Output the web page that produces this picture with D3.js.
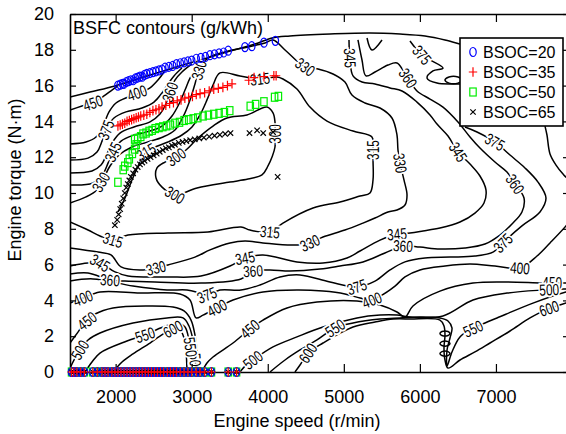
<!DOCTYPE html>
<html>
<head>
<meta charset="utf-8">
<script src="https://cdn.jsdelivr.net/npm/d3@7"></script>
<style>
  body { margin: 0; background: #fff; }
  svg { display: block; font-family: "Liberation Sans", Arial, sans-serif; }
</style>
</head>
<body>
<svg id="chart" width="566" height="434"></svg>
<script>
// axis ticks
const speedTicks = [2000, 3000, 4000, 5000, 6000, 7000]
const torqueTicks = [0, 2, 4, 6, 8, 10, 12, 14, 16, 18, 20]

// operating points [speed r/min, torque N·m]
const seriesNames = ["BSOC=20", "BSOC=35", "BSOC=50", "BSOC=65"]
const bsoc20 = [[2030,16.0],[2060,16.05],[2090,16.1],[2110,16.1],[2140,16.2],[2170,16.25],[2200,16.3],[2230,16.3],[2260,16.4],[2290,16.45],[2320,16.5],[2350,16.5],[2380,16.6],[2410,16.65],[2450,16.7],[2490,16.75],[2530,16.8],[2570,16.85],[2610,16.9],[2650,17.0],[2700,17.05],[2750,17.1],[2800,17.2],[2850,17.25],[2900,17.3],[2950,17.35],[3000,17.4],[3060,17.5],[3120,17.55],[3180,17.6],[3240,17.7],[3300,17.75],[3360,17.8],[3420,17.85],[3480,17.95],[3700,18.15],[3790,18.2],[3950,18.4],[4100,18.5]]
const bsoc35 = [[2030,13.75],[2060,13.8],[2090,13.85],[2120,13.9],[2150,14.0],[2180,14.05],[2210,14.1],[2240,14.15],[2270,14.2],[2300,14.25],[2330,14.3],[2370,14.35],[2410,14.4],[2450,14.5],[2490,14.6],[2530,14.65],[2570,14.7],[2610,14.8],[2660,14.9],[2710,15.0],[2760,15.05],[2810,15.15],[2860,15.2],[2910,15.3],[2960,15.35],[3010,15.4],[3060,15.5],[3110,15.55],[3170,15.6],[3230,15.7],[3290,15.8],[3350,15.85],[3410,15.9],[3470,16.0],[3530,16.1],[3750,16.3],[3820,16.45],[3950,16.5],[4080,16.55],[4110,16.55]]
const bsoc50 = [[2030,10.6],[2100,11.3],[2120,11.5],[2160,11.7],[2180,11.9],[2220,12.2],[2250,12.45],[2270,12.7],[2250,13.0],[2290,13.05],[2330,13.15],[2360,13.3],[2400,13.35],[2440,13.45],[2480,13.5],[2520,13.6],[2570,13.65],[2620,13.7],[2670,13.75],[2720,13.8],[2780,13.9],[2840,13.95],[2900,14.05],[2960,14.1],[3020,14.15],[3080,14.2],[3150,14.3],[3220,14.35],[3290,14.4],[3360,14.45],[3430,14.5],[3500,14.6],[3770,14.85],[3840,14.95],[3950,15.1],[4090,15.35],[4140,15.4]]
const bsoc65 = [[1990,8.2],[2020,8.5],[2040,8.8],[2060,9.1],[2080,9.4],[2100,9.7],[2120,10.0],[2140,10.3],[2160,10.5],[2180,10.7],[2200,10.9],[2230,11.1],[2260,11.3],[2290,11.45],[2320,11.6],[2350,11.7],[2380,11.8],[2420,11.9],[2460,12.0],[2500,12.1],[2540,12.2],[2580,12.3],[2620,12.4],[2660,12.5],[2700,12.55],[2740,12.65],[2780,12.7],[2830,12.8],[2880,12.85],[2930,12.9],[2980,12.95],[3040,13.0],[3100,13.05],[3160,13.1],[3230,13.15],[3300,13.2],[3370,13.25],[3440,13.3],[3510,13.35],[3760,13.35],[3860,13.5],[3940,13.35],[4070,13.4],[4130,10.9]]
// zero-torque points shared by every series
const idleSpeeds = [1420,1450,1490,1540,1590,1700,1760,1820,1860,1900,1950,1990,2030,2070,2110,2150,2190,2230,2270,2310,2350,2390,2430,2470,2510,2550,2590,2630,2680,2720,2760,2800,2850,2900,2950,3000,3060,3110,3170,3260,3480,3590]

// BSFC contour lines [speed, torque] and label spots
const edgeTop = [[1400,15.36],[1663,15.64],[1992,15.98],[2452,16.59],[2978,17.26],[3504,17.93],[3832,18.32],[4056,18.66],[4292,18.77],[4818,18.88],[5344,18.94],[5739,18.88],[6067,18.77],[6330,18.55],[6527,18.32],[6700,18.1]]
const edgeV = [[5305,18.66],[5370,17.99],[5502,18.55]]

const c300 = [[3464,14.19],[3280,13.74],[3083,13.07],[2925,12.40],[2794,12.01],[2649,11.73],[2544,11.40],[2531,10.84],[2610,10.33],[2780,9.89],[3070,10.28],[3504,10.61],[3740,10.78],[3924,11.01],[4003,11.51],[4056,12.01],[4095,12.57],[4095,13.30],[4095,13.97],[4069,14.47],[3990,14.80],[3727,14.36]]
const c300Labels = [[2794,12.01],[2780,9.89],[4095,13.30]]

const c315 = [[1400,8.38],[1637,7.93],[1794,7.60],[1965,7.37],[2163,7.65],[2688,7.77],[3214,7.82],[3648,8.10],[3766,7.93],[4029,7.82],[4200,8.32],[4595,9.16],[4950,9.50],[5213,9.83],[5344,10.00],[5384,10.73],[5384,11.84],[5384,12.57],[5370,13.13],[5121,13.46],[4779,14.02],[4555,14.80],[4384,15.81],[4200,16.37],[4121,16.48],[3898,16.37],[3635,16.54],[3372,16.71],[3280,16.03],[3201,15.20],[3109,14.36],[3004,13.69],[2872,13.24],[2688,12.85],[2517,12.57],[2399,12.29],[2320,11.73],[2215,10.73],[2123,9.72],[2031,8.94]]
const c315Labels = [[1965,7.37],[4029,7.82],[5384,12.40],[3898,16.37],[2399,12.29]]

const c330 = [[1400,9.44],[1610,9.78],[1755,10.17],[1834,10.73],[1926,11.51],[2044,12.12],[2215,12.57],[2425,12.85],[2623,13.13],[2780,13.52],[2886,14.25],[2978,15.20],[3043,16.09],[3096,16.87],[3214,17.54],[3438,17.88],[3740,18.16],[3964,18.38],[4069,18.55],[4227,17.99],[4398,17.32],[4490,17.04],[4661,16.93],[4858,16.65],[5015,16.20],[5107,15.47],[5278,15.03],[5476,14.75],[5633,14.19],[5699,13.24],[5712,12.40],[5739,11.67],[5791,10.73],[5831,9.89],[5804,9.33],[5699,9.05],[5581,8.94],[5410,8.60],[5252,8.32],[5015,7.93],[4726,7.54],[4555,7.21],[4332,7.09],[3937,7.21],[3701,7.32],[3504,7.21],[3241,6.82],[3043,6.42],[2688,5.98],[2531,5.81],[2320,5.70],[2071,5.87],[1939,6.54],[1768,6.70],[1400,6.93]]
const c330Labels = [[1808,10.61],[3096,16.87],[4490,17.04],[5739,11.67],[4555,7.21],[2531,5.81]]

const c345Left = [[1400,10.45],[1702,10.56],[1834,11.06],[1900,11.67],[1965,12.29],[2071,12.90],[2241,13.24],[2452,13.46],[2610,13.74],[2741,14.30],[2833,14.97],[2912,15.75],[2978,16.42],[3060,16.95]]
const c345LeftLabels = [[1965,12.29]]
const c345 = [[5068,18.55],[5081,17.43],[5121,16.54],[5239,16.20],[5410,16.09],[5607,15.87],[5765,15.70],[5962,15.08],[6133,14.36],[6225,13.85],[6370,13.18],[6501,12.29],[6659,11.62],[6790,10.95],[6869,10.17],[6843,9.44],[6724,8.88],[6527,8.38],[6264,8.04],[6041,7.88],[5870,7.77],[5699,7.71],[5476,7.37],[5213,6.76],[5042,6.37],[4726,6.09],[4384,6.15],[3937,6.54],[3701,6.37],[3504,5.92],[3122,5.36],[2688,5.31],[2163,5.36],[1992,5.59],[1794,6.09],[1637,6.09],[1400,5.92]]
const c345Labels = [[5081,17.54],[6501,12.29],[5699,7.71],[3701,6.37],[1794,6.09]]

const c360Left = [[1400,11.12],[1689,11.23],[1808,11.56],[1873,12.07],[1952,12.79],[2057,13.35],[2241,13.69],[2452,13.97],[2583,14.41],[2662,14.97],[2715,15.64],[2780,16.31],[2872,16.76],[3004,17.21]]
const c360LeftLabels = [[2715,15.64]]
const c360 = [[5186,18.55],[5239,17.43],[5291,16.54],[5410,16.76],[5581,17.15],[5699,17.26],[5791,16.76],[5844,16.42],[5962,15.70],[6133,15.25],[6304,14.80],[6501,13.97],[6659,13.13],[6790,12.51],[6987,11.73],[7145,11.17],[7251,10.50],[7369,9.72],[7342,8.94],[7211,8.27],[7053,7.65],[6856,7.15],[6593,6.93],[6264,6.87],[6001,6.98],[5778,7.04],[5541,6.65],[5252,6.15],[4950,5.92],[4687,5.75],[4292,5.64],[4029,5.70],[3806,5.64],[3648,5.20],[3122,4.97],[2517,5.03],[2123,5.08],[1926,5.14],[1637,5.53],[1400,5.47]]
const c360Labels = [[5844,16.42],[7251,10.50],[5778,7.04],[3806,5.64],[1926,5.14]]

const c375Left = [[1400,11.84],[1637,11.95],[1755,12.29],[1821,12.90],[1886,13.63],[1978,14.19],[2136,14.53],[2347,14.75],[2504,15.08],[2610,15.59],[2688,16.09],[2767,16.54],[2872,16.98]]
const c375LeftLabels = [[1873,13.52]]
const c375Top = [[5870,18.49],[6028,17.71],[6304,16.98],[6172,16.82],[6094,16.42],[6225,16.14],[6527,16.09],[6700,16.05]]
const c375TopLabels = [[6028,17.71]]
const c375Loop = [[6330,16.31],[6383,16.48],[6501,16.48],[6554,16.31],[6501,16.14],[6383,16.14]]
const c375 = [[6593,13.69],[6751,13.41],[6987,12.85],[7185,12.12],[7382,11.40],[7553,10.61],[7658,9.72],[7579,8.94],[7342,8.16],[7158,7.48],[7093,7.21],[6961,6.70],[6724,6.48],[6396,6.42],[6067,6.37],[5804,6.15],[5607,5.70],[5410,5.08],[5173,4.75],[4818,5.03],[4424,5.42],[4161,5.31],[3898,4.86],[3648,4.58],[3372,4.58],[3201,4.30],[3109,4.41],[2938,4.58],[2675,4.58],[2228,4.80],[1702,5.20],[1400,5.08]]
const c375Labels = [[6987,12.85],[7093,7.21],[5173,4.75],[3201,4.30]]

const c400Left = [[1400,12.74],[1610,12.85],[1742,13.13],[1834,13.74],[1913,14.53],[2005,15.03],[2163,15.36],[2320,15.59],[2452,15.87],[2557,16.31],[2636,16.76]]
const c400LeftLabels = [[2281,15.59]]
const c400 = [[1400,3.85],[1571,4.13],[1794,4.47],[2320,4.41],[2846,4.36],[2978,4.02],[3057,3.02],[3149,3.18],[3333,3.58],[3543,4.02],[3937,4.47],[4384,4.58],[4726,4.52],[5015,4.36],[5213,4.13],[5344,4.02],[5476,4.24],[5673,4.80],[5804,5.31],[6001,5.70],[6330,5.92],[6659,6.03],[6987,5.92],[7316,5.81],[7540,6.48],[7711,7.21],[7921,8.16],[8000,8.6]]
const c400Labels = [[1571,4.13],[3333,3.58],[5370,4.02],[7316,5.81]]
const c400Right = [[7645,13.74],[7671,13.24],[7711,12.18],[7790,11.56],[7882,11.06],[7921,10.89],[8000,10.7]]

const c450Top = [[1400,14.64],[1558,14.86],[1716,15.08],[1847,15.42],[1952,15.75],[2031,15.98]]
const c450TopLabels = [[1702,15.03]]
const c450Low = [[1400,1.62],[1505,2.23],[1610,2.85],[1729,3.24],[1965,3.58],[2412,3.69],[2754,3.63],[2899,3.41],[2991,2.90],[3043,2.07],[3070,1.23],[3096,0.22],[3100,0]]
const c450LowLabels = [[1624,2.85]]
const c450 = [[3135,0],[3201,0.50],[3280,0.84],[3543,1.62],[3766,2.40],[3937,2.90],[4253,3.58],[4647,3.91],[5173,3.97],[5476,3.74],[5699,3.35],[5804,3.07],[5909,3.69],[6264,4.52],[6698,4.97],[7145,5.03],[7619,4.97],[7921,4.97],[8000,4.97]]
const c450Labels = [[3766,2.40],[7740,4.97]]

const c500Low = [[1400,0.22],[1466,0.78],[1531,1.23],[1637,1.79],[1794,2.18],[2228,2.74],[2675,3.02],[2886,3.02],[2964,2.57],[3017,1.79],[3043,0.95],[3057,0.11],[3060,0]]
const c500LowLabels = [[1531,1.23],[3050,0.5]]
const c500 = [[3635,0],[3701,0.33],[3806,0.67],[4069,1.40],[4384,1.96],[4726,2.51],[5173,3.02],[5476,3.18],[5699,3.18],[5870,3.07],[6304,3.13],[6698,4.02],[7145,4.41],[7619,4.58],[7921,4.64],[8000,4.65]]
const c500Labels = [[3806,0.67],[7700,4.6]]

const c550Low = [[1597,0],[1689,0.56],[1794,1.06],[2149,1.73],[2386,2.07],[2623,2.51],[2820,2.74],[2912,2.51],[2964,1.79],[2991,0.95],[3004,0.11],[3005,0]]
const c550LowLabels = [[2386,2.07],[2985,1.4]]
const c550 = [[4029,0],[4227,0.67],[4424,1.23],[4647,1.79],[4884,2.46],[5121,2.74],[5476,2.96],[5739,3.02],[6001,3.07],[6264,3.02],[6370,2.85],[6422,2.46],[6396,1.90],[6357,1.23],[6357,0.33],[6422,1.12],[6527,1.96],[6659,2.35],[6856,2.74],[7014,3.02],[7487,3.85],[7921,4.47],[8000,4.55]]
const c550Labels = [[4884,2.46],[6700,2.42]]

const c600Low = [[1965,0],[2084,0.56],[2228,1.01],[2452,1.62],[2583,2.01],[2754,2.40],[2846,2.35],[2899,1.90],[2925,1.23],[2938,0.11],[2940,0]]
const c600LowLabels = [[2754,2.40]]
const c600 = [[4358,0],[4424,0.39],[4529,1.06],[4726,1.62],[5121,2.51],[5410,2.79],[5647,2.96],[5870,2.96],[6264,2.90],[6317,2.57],[6330,2.07],[6317,1.34],[6330,0.67],[6370,0.22],[6527,0.67],[6724,1.12],[6922,1.62],[7185,2.29],[7448,3.02],[7645,3.46],[7921,3.85],[8000,3.95]]
const c600Labels = [[4529,1.06],[7700,3.55]]
const hookLoops = [
  [[6264,2.15],[6290,2.26],[6370,2.26],[6396,2.15],[6370,2.04],[6290,2.04]],
  [[6264,1.59],[6290,1.70],[6370,1.70],[6396,1.59],[6370,1.48],[6290,1.48]],
  [[6264,1.03],[6290,1.14],[6370,1.14],[6396,1.03],[6370,0.92],[6290,0.92]]
]

const contours = [
  { level: null, pts: edgeTop, labels: [] },
  { level: null, pts: edgeV, labels: [] },
  { level: 300, pts: c300, labels: c300Labels, closed: true },
  { level: 315, pts: c315, labels: c315Labels },
  { level: 330, pts: c330, labels: c330Labels },
  { level: 345, pts: c345Left, labels: c345LeftLabels },
  { level: 345, pts: c345, labels: c345Labels },
  { level: 360, pts: c360Left, labels: c360LeftLabels },
  { level: 360, pts: c360, labels: c360Labels },
  { level: 375, pts: c375Left, labels: c375LeftLabels },
  { level: 375, pts: c375Top, labels: c375TopLabels },
  { level: 375, pts: c375Loop, labels: [], closed: true },
  { level: 375, pts: c375, labels: c375Labels },
  { level: 400, pts: c400Left, labels: c400LeftLabels },
  { level: 400, pts: c400, labels: c400Labels },
  { level: 400, pts: c400Right, labels: [] },
  { level: 450, pts: c450Top, labels: c450TopLabels },
  { level: 450, pts: c450Low, labels: c450LowLabels },
  { level: 450, pts: c450, labels: c450Labels },
  { level: 500, pts: c500Low, labels: c500LowLabels },
  { level: 500, pts: c500, labels: c500Labels },
  { level: 550, pts: c550Low, labels: c550LowLabels },
  { level: 550, pts: c550, labels: c550Labels },
  { level: 600, pts: c600Low, labels: c600LowLabels },
  { level: 600, pts: c600, labels: c600Labels },
  ...hookLoops.map((pts) => ({ level: 600, pts, labels: [], closed: true }))
]

const svg = d3.select("#chart")
const x = d3.scaleLinear().domain([1400, 8000]).range([70, 572])
const y = d3.scaleLinear().domain([0, 20]).range([372, 14])

svg.append("defs").append("clipPath").attr("id", "plot-clip")
  .append("rect")
  .attr("x", x(1400)).attr("y", y(20))
  .attr("width", x(8000) - x(1400)).attr("height", y(0) - y(20))

// contour lines
const openLine = d3.line().x((d) => x(d[0])).y((d) => y(d[1])).curve(d3.curveCatmullRom.alpha(0.5))
const loopLine = d3.line().x((d) => x(d[0])).y((d) => y(d[1])).curve(d3.curveCatmullRomClosed.alpha(0.5))

const contourG = svg.append("g").attr("clip-path", "url(#plot-clip)")
contourG.selectAll("path")
  .data(contours)
  .enter()
  .append("path")
  .attr("d", (d) => (d.closed ? loopLine(d.pts) : openLine(d.pts)))
  .attr("fill", "none")
  .attr("stroke", "#000")
  .attr("stroke-width", 1.5)

// label angle follows the nearest segment of its line
function labelAngle(pts, p) {
  const px = x(p[0]), py = y(p[1])
  let best = 0, bestDist = Infinity
  for (let i = 0; i < pts.length - 1; i++) {
    const ax = x(pts[i][0]), ay = y(pts[i][1])
    const bx = x(pts[i + 1][0]), by = y(pts[i + 1][1])
    const dx = bx - ax, dy = by - ay
    const len2 = dx * dx + dy * dy || 1
    const t = Math.max(0, Math.min(1, ((px - ax) * dx + (py - ay) * dy) / len2))
    const qx = ax + t * dx, qy = ay + t * dy
    const dist = (px - qx) ** 2 + (py - qy) ** 2
    if (dist < bestDist) {
      bestDist = dist
      best = Math.atan2(dy, dx) * 180 / Math.PI
    }
  }
  if (best > 90) best -= 180
  if (best < -90) best += 180
  return best
}

const labelData = contours.flatMap((c) =>
  c.labels.map((p) => ({ level: c.level, p, angle: labelAngle(c.pts, p) }))
)

// condensed label face
contourG.selectAll("text")
  .data(labelData)
  .enter()
  .append("text")
  .attr("transform", (d) => `translate(${x(d.p[0])},${y(d.p[1])}) rotate(${d.angle}) scale(0.74,1)`)
  .attr("text-anchor", "middle")
  .attr("dominant-baseline", "central")
  .attr("font-family", "'Liberation Sans', Arial, sans-serif")
  .attr("font-size", 16)
  .attr("fill", "#000")
  .attr("stroke", "#fff")
  .attr("stroke-width", 4)
  .attr("paint-order", "stroke")
  .text((d) => d.level)

// axes
const axisG = svg.append("g")
axisG.append("g")
  .attr("transform", `translate(0,${y(0)})`)
  .call(d3.axisBottom(x).tickValues(speedTicks).tickFormat(d3.format("d"))
    .tickSizeInner(-8).tickSizeOuter(0).tickPadding(18))
axisG.append("g")
  .attr("transform", `translate(0,${y(20)})`)
  .call(d3.axisTop(x).tickValues(speedTicks).tickSizeInner(-8).tickSizeOuter(0).tickFormat(""))
axisG.append("g")
  .attr("transform", `translate(${x(1400)},0)`)
  .call(d3.axisLeft(y).tickValues(torqueTicks).tickSizeInner(-6).tickSizeOuter(0).tickPadding(16))
axisG.append("g")
  .attr("transform", `translate(${x(8000)},0)`)
  .call(d3.axisRight(y).tickValues(torqueTicks).tickSizeInner(-9).tickSizeOuter(0).tickFormat(""))
axisG.selectAll(".domain").attr("stroke", "#000").attr("stroke-width", 1.6)
axisG.selectAll(".tick line").attr("stroke", "#000").attr("stroke-width", 1.2)
axisG.selectAll(".tick text")
  .attr("font-family", "'Liberation Sans', Arial, sans-serif")
  .attr("font-size", 18)
  .attr("fill", "#000")

// markers
const markerStyle = [
  { color: "#0000ff", draw: (g) => g.append("ellipse").attr("rx", 3.2).attr("ry", 4.5) },
  { color: "#ff0000", draw: (g) => g.append("path").attr("d", "M-4.2,0H4.2M0,-4.8V4.8") },
  { color: "#00ee00", draw: (g) => g.append("rect").attr("x", -3.2).attr("y", -4).attr("width", 6.4).attr("height", 8) },
  { color: "#000000", draw: (g) => g.append("path").attr("d", "M-2.7,-2.7L2.7,2.7M-2.7,2.7L2.7,-2.7") }
]
const allSeries = [bsoc20, bsoc35, bsoc50, bsoc65].map((pts, i) => ({
  i,
  pts: pts.concat(idleSpeeds.map((s) => [s, 0]))
}))

const drawOrder = [2, 3, 0, 1]
const pointsG = svg.append("g")
drawOrder.forEach((i) => {
  const s = allSeries[i]
  const st = markerStyle[i]
  pointsG.append("g")
    .selectAll("g")
    .data(s.pts)
    .enter()
    .append("g")
    .attr("transform", (d) => `translate(${x(d[0])},${y(d[1])})`)
    .each(function () {
      st.draw(d3.select(this))
        .attr("fill", "none")
        .attr("stroke", st.color)
        .attr("stroke-width", 1.2)
    })
})

// legend
const legend = svg.append("g").attr("transform", "translate(460,38)")
legend.append("rect")
  .attr("width", 103).attr("height", 88)
  .attr("fill", "#fff").attr("stroke", "#000").attr("stroke-width", 1.6)
seriesNames.forEach((name, i) => {
  const row = legend.append("g").attr("transform", `translate(13,${14 + i * 20})`)
  markerStyle[i].draw(row)
    .attr("fill", "none")
    .attr("stroke", markerStyle[i].color)
    .attr("stroke-width", 1.2)
  row.append("text")
    .attr("x", 10)
    .attr("dominant-baseline", "central")
    .attr("font-size", 16)
    .attr("fill", "#000")
    .text(name)
})

// titles
svg.append("text")
  .attr("x", 73).attr("y", 34)
  .attr("font-size", 18)
  .text("BSFC contours (g/kWh)")
svg.append("text")
  .attr("x", 297).attr("y", 427)
  .attr("text-anchor", "middle")
  .attr("font-size", 18)
  .text("Engine speed (r/min)")
svg.append("text")
  .attr("transform", "translate(21,180) rotate(-90)")
  .attr("text-anchor", "middle")
  .attr("font-size", 18)
  .text("Engine torque (N·m)")
</script>
</body>
</html>
